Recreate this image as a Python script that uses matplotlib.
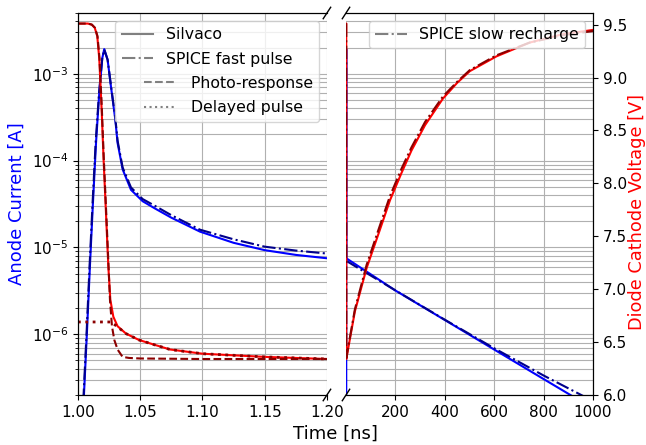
import numpy as np
import matplotlib
matplotlib.use('Agg')
import matplotlib.pyplot as plt
from matplotlib.lines import Line2D
from matplotlib.legend_handler import HandlerLine2D

plt.rcParams['font.size'] = 11

# ---- fast pulse (left panel), time in ns ----
t_fast_i = [1.000, 1.0048, 1.0072, 1.0096, 1.0120, 1.0145, 1.0171, 1.0195, 1.0211, 1.0238,
            1.0265, 1.0300, 1.0318, 1.0359, 1.0426, 1.0520, 1.0620, 1.0750, 1.0980, 1.1250,
            1.1500, 1.1750, 1.2000]
i_silvaco = [1e-8, 2.0e-7, 1.05e-6, 6.1e-6, 3.2e-5, 1.6e-4, 6.0e-4, 1.5e-3, 1.92e-3, 1.45e-3,
             7.1e-4, 2.96e-4, 1.6e-4, 7.9e-5, 4.6e-5, 3.4e-5, 2.8e-5, 2.2e-5, 1.52e-5, 1.13e-5,
             9.3e-6, 8.2e-6, 7.5e-6]
t_spice_i = [1.000, 1.0045, 1.0070, 1.0094, 1.0118, 1.0143, 1.0170, 1.0195, 1.0211, 1.0238,
             1.0265, 1.0300, 1.0318, 1.0359, 1.0426, 1.0520, 1.0620, 1.0750, 1.0980, 1.1250,
             1.1500, 1.1750, 1.2000]
i_spice_fast = [1e-8, 2.0e-7, 1.1e-6, 6.5e-6, 3.4e-5, 1.7e-4, 6.2e-4, 1.5e-3, 1.9e-3, 1.45e-3,
                7.3e-4, 3.1e-4, 1.7e-4, 8.3e-5, 4.9e-5, 3.6e-5, 3.0e-5, 2.35e-5, 1.6e-5, 1.24e-5,
                1.02e-5, 9.2e-6, 8.5e-6]

t_fast_v = [1.000, 1.0080, 1.0110, 1.0135, 1.0155, 1.0171, 1.0190, 1.0206, 1.0222, 1.0244,
            1.0260, 1.0284, 1.0318, 1.0386, 1.0490, 1.0627, 1.0740, 1.1000, 1.1500, 1.2000]
v_silvaco = [9.51, 9.51, 9.50, 9.47, 9.39, 9.18, 8.70, 8.22, 7.80, 7.21,
             6.90, 6.74, 6.65, 6.58, 6.52, 6.47, 6.43, 6.39, 6.36, 6.34]

t_photo = [1.000, 1.0080, 1.0112, 1.0137, 1.0157, 1.0173, 1.0192, 1.0208, 1.0224, 1.0246,
           1.0257, 1.0273, 1.0292, 1.0318, 1.0358, 1.0410, 1.0500, 1.1000, 1.2000]
v_photo = [9.51, 9.51, 9.50, 9.47, 9.39, 9.18, 8.70, 8.22, 7.80, 7.21,
           6.90, 6.65, 6.52, 6.43, 6.36, 6.35, 6.345, 6.34, 6.34]

t_delay = [1.000, 1.0265, 1.0300, 1.0386, 1.0490, 1.0627, 1.0740, 1.1000, 1.1500, 1.2000]
v_delay = [6.69, 6.69, 6.66, 6.58, 6.52, 6.47, 6.43, 6.39, 6.36, 6.34]

# ---- slow recharge (right panel) ----
t_slow_v = [1.2, 36, 83.5, 137, 178, 225, 265, 320, 392, 450, 501, 609, 743, 878, 1000]
v_silvaco_slow = [6.35, 6.79, 7.20, 7.56, 7.84, 8.10, 8.31, 8.55, 8.80, 8.95, 9.06, 9.20, 9.33, 9.41, 9.45]
t_spice_v = [1.0, 1.012, 1.2, 36, 83.5, 137, 178, 225, 265, 320, 392, 450, 501, 609, 743, 878, 1000]
v_spice_slow = [9.51, 9.51, 6.35, 6.81, 7.23, 7.60, 7.88, 8.14, 8.34, 8.58, 8.82, 8.96, 9.07, 9.21,
                9.33, 9.40, 9.44]

t_slow_i = [1.2, 200, 400, 600, 800, 1000]
i_silvaco_slow = [7.0e-6, 3.19e-6, 1.46e-6, 6.67e-7, 3.05e-7, 1.40e-7]
i_spice_slow = [7.0e-6, 3.2e-6, 1.47e-6, 6.9e-7, 3.35e-7, 1.7e-7]

left_ticks = [1.00, 1.05, 1.10, 1.15, 1.20]
right_ticks = [200, 400, 600, 800, 1000]
volt_ticks = [6.0, 6.5, 7.0, 7.5, 8.0, 8.5, 9.0, 9.5]


class ShiftedLine(HandlerLine2D):
    # legend handle pushed to the right
    def __init__(self, shift, **kw):
        super().__init__(**kw)
        self.shift = shift

    def create_artists(self, legend, orig_handle, xdescent, ydescent, width, height, fontsize, trans):
        return super().create_artists(legend, orig_handle, xdescent - self.shift, ydescent,
                                      width, height, fontsize, trans)


fig = plt.figure(figsize=(6.46, 4.45), dpi=100)
axL = fig.add_axes([0.1207, 0.1124, 0.3854, 0.8584])
axR = fig.add_axes([0.5356, 0.1124, 0.3824, 0.8584])
axL2 = axL.twinx()
axR2 = axR.twinx()

lw = 1.5
# left panel
axL.plot(t_fast_i, i_silvaco, color='blue', lw=lw)
axL.plot(t_spice_i, i_spice_fast, color='darkblue', ls='-.', lw=lw)
axL2.plot(t_fast_v, v_silvaco, color='red', lw=lw)
axL2.plot(t_photo, v_photo, color='darkred', ls='--', lw=lw)
axL2.plot(t_delay, v_delay, color='darkred', ls=':', lw=2)

# right panel
axR.plot(t_fast_i + t_slow_i[1:], i_silvaco + i_silvaco_slow[1:], color='blue', lw=lw)
axR.plot(t_slow_i, i_spice_slow, color='darkblue', ls='-.', lw=lw)
axR2.plot(t_fast_v + t_slow_v[1:], v_silvaco + v_silvaco_slow[1:], color='red', lw=lw)
axR2.plot(t_spice_v, v_spice_slow, color='darkred', ls='-.', lw=lw)

for ax in (axL, axR):
    ax.set_yscale('log')
    ax.set_ylim(2e-7, 5e-3)
    ax.grid(True, which='both')
for ax in (axL2, axR2):
    ax.set_ylim(6.0, 9.61)

axL.set_xticks(left_ticks)
axL.set_xticklabels(['%.2f' % v for v in left_ticks])
axR.set_xticks(right_ticks)
axR2.set_yticks(volt_ticks)

axL.spines['right'].set_visible(False)
axL2.spines['right'].set_visible(False)
axL2.tick_params(which='both', right=False, labelright=False)
axR.spines['left'].set_visible(False)
axR2.spines['left'].set_visible(False)
axR.tick_params(axis='y', which='both', left=False, labelleft=False)

# broken axis marks
d = .015
kw = dict(transform=axL.transAxes, color='k', clip_on=False, lw=1)
axL.plot((1 - d, 1 + d), (-d, +d), **kw)
axL.plot((1 - d, 1 + d), (1 - d, 1 + d), **kw)
kw.update(transform=axR.transAxes)
axR.plot((-d, +d), (1 - d, 1 + d), **kw)
axR.plot((-d, +d), (-d, +d), **kw)
axL.set_xlim(1.0, 1.2)
axR.set_xlim(0, 1000)

axL.set_ylabel('Anode Current [A]', color='blue', fontsize=13)
axR2.set_ylabel('Diode Cathode Voltage [V]', color='red', fontsize=12.8, labelpad=1)
axR2.yaxis.label.set_y(0.48)
fig.text(0.52, 0.045, 'Time [ns]', ha='center', va='top', fontsize=13)

h1 = [Line2D([], [], color='gray', ls='-', lw=lw),
      Line2D([], [], color='gray', ls='-.', lw=lw),
      Line2D([], [], color='gray', ls='--', lw=lw),
      Line2D([], [], color='gray', ls=':', lw=lw)]
labels1 = ['Silvaco', 'SPICE fast pulse', '     Photo-response', '     Delayed pulse']
axL2.legend(h1, labels1, loc='upper right', fontsize=11.3, labelspacing=0.6,
            handler_map={h1[2]: ShiftedLine(16), h1[3]: ShiftedLine(16)})

h2 = [Line2D([], [], color='gray', ls='-.', lw=lw)]
axR2.legend(h2, ['SPICE slow recharge'], loc='upper right', fontsize=11.3)

fig.savefig('out.png', dpi=100)
